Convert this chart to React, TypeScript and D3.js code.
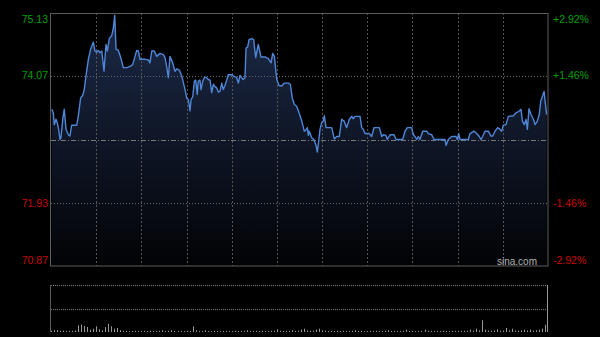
import React from "react";
import * as d3 from "d3";

// ---- data ----
const prevClose = 73.0;
const priceTicks = [75.13, 74.07, 73.0, 71.93, 70.87];
const leftLabels = ["75.13", "74.07", "", "71.93", "70.87"];
const rightLabels = ["+2.92%", "+1.46%", "", "-1.46%", "-2.92%"];
const gridMinutes = [30, 60, 90, 120, 150, 180, 210, 240, 270, 300];

// [minute since open, price]
const priceSeries: [number, number][] = [
  [0.5, 73.51], [1.5, 73.45], [2.2, 73.25], [3.3, 73.34], [4.2, 73.28], [5.1, 73.17], [6.0, 73.0], [6.6, 73.03],
  [7.8, 73.34], [8.8, 73.51], [10.0, 73.17], [11.5, 73.08], [12.6, 73.06], [13.7, 73.24], [17.1, 73.24], [18.1, 73.39],
  [19.7, 73.7], [21.0, 73.74], [22.1, 73.84], [23.2, 74.07], [24.8, 74.35], [26.4, 74.53], [28.1, 74.64], [29.2, 74.49],
  [30.3, 74.47], [31.4, 74.5], [32.5, 74.46], [33.7, 74.49], [35.2, 74.15], [36.5, 74.6], [37.4, 74.49], [38.7, 74.7],
  [40.3, 74.75], [41.4, 74.88], [42.3, 75.09], [43.2, 74.52], [44.7, 74.5], [46.3, 74.38], [48.0, 74.21], [50.3, 74.21],
  [52.5, 74.23], [54.2, 74.26], [55.8, 74.4], [56.9, 74.5], [58.0, 74.49], [59.1, 74.35], [62.4, 74.35], [64.6, 74.34],
  [65.7, 74.29], [66.9, 74.49], [68.6, 74.49], [70.2, 74.4], [72.4, 74.45], [74.6, 74.43], [75.7, 74.38], [76.8, 74.23],
  [77.9, 74.04], [79.0, 74.4], [80.8, 74.29], [82.3, 74.15], [83.5, 74.19], [85.2, 74.17],
  [86.8, 74.07], [89.0, 73.84], [90.1, 73.7], [91.2, 73.67], [92.3, 73.48], [93.0, 73.67], [94.1, 73.72], [95.2, 73.98],
  [96.1, 74.0], [97.1, 73.76], [97.8, 73.98], [98.9, 74.0], [99.6, 73.84], [100.7, 73.98], [101.8, 74.04], [102.9, 74.05],
  [104.4, 74.01], [105.6, 74.0], [106.7, 73.79], [107.8, 73.93], [108.9, 73.89], [110.0, 73.87], [111.1, 73.8], [112.2, 73.81],
  [113.4, 73.95], [114.4, 73.84], [115.5, 73.91], [116.7, 74.0], [117.7, 74.09], [120.0, 74.09], [121.0, 74.07], [123.3, 74.04],
  [124.4, 73.95], [125.5, 74.08], [126.6, 74.04], [127.7, 74.01], [128.8, 74.04], [129.5, 74.54], [130.6, 74.56], [131.5, 74.68],
  [133.3, 74.7], [134.6, 74.68], [135.9, 74.38], [137.6, 74.6], [139.4, 74.39], [142.1, 74.39], [144.3, 74.36], [146.1, 74.29],
  [147.2, 74.45], [148.3, 74.4], [149.9, 74.01], [151.4, 73.91], [153.2, 73.9], [154.9, 73.95], [157.6, 73.95], [158.9, 73.93],
  [160.2, 73.7], [161.6, 73.59], [163.1, 73.56], [164.7, 73.45], [166.5, 73.31], [168.2, 73.14],
  [169.3, 73.16], [170.2, 73.2], [170.9, 73.07], [171.5, 73.14], [173.1, 73.03], [174.6, 73.0], [176.0, 72.9], [176.8, 72.79],
  [177.5, 72.92], [178.6, 73.17], [179.7, 73.28], [180.8, 73.31], [181.5, 73.4], [182.6, 73.2], [186.4, 73.2], [188.1, 73.01],
  [189.7, 73.05], [191.4, 73.05], [193.0, 73.34], [194.6, 73.31], [196.3, 73.2], [198.1, 73.34], [199.7, 73.39], [200.7, 73.35],
  [201.9, 73.39], [205.2, 73.39], [206.3, 73.2], [207.4, 73.17], [208.5, 73.1], [211.4, 73.1], [212.9, 73.05], [214.5, 73.2],
  [218.0, 73.2], [219.6, 73.05], [220.7, 73.08], [222.4, 73.07], [223.3, 73.0], [225.1, 73.08], [227.8, 73.08], [229.1, 73.0],
  [233.5, 73.0], [235.1, 73.14], [236.6, 73.2], [239.5, 73.2], [240.6, 73.08], [241.7, 73.05], [242.8, 73.0], [243.9, 73.05],
  [245.0, 73.0], [246.8, 73.14], [249.5, 73.14], [250.5, 73.1], [252.8, 73.08], [254.3, 73.0], [261.6, 73.0], [262.3, 72.9],
  [263.8, 73.0], [266.1, 73.05], [268.9, 73.05], [269.8, 73.0], [270.7, 73.1], [271.6, 73.0], [277.1, 73.0], [278.2, 73.1],
  [280.9, 73.14], [282.7, 73.1], [284.4, 73.05], [285.5, 73.0], [286.6, 73.05], [288.2, 73.14], [290.4, 73.14], [292.0, 73.06],
  [293.3, 73.06], [294.8, 73.14], [296.6, 73.2], [298.1, 73.17], [299.3, 73.14], [300.3, 73.24], [302.1, 73.25], [303.7, 73.39],
  [307.0, 73.4], [308.8, 73.45], [311.0, 73.48], [312.1, 73.51], [313.0, 73.31], [314.3, 73.25], [315.4, 73.34], [316.3, 73.17],
  [317.4, 73.52], [318.7, 73.42], [320.3, 73.34], [321.4, 73.25], [322.9, 73.31], [324.2, 73.42], [325.2, 73.65], [326.5, 73.74],
  [327.4, 73.81], [328.2, 73.62], [329.1, 73.42],
];

// volume every 2 minutes
const volumes = [
  120, 170, 200, 110, 130, 100, 120, 110, 140, 670,
  730, 600, 500, 230, 330, 570, 270, 170, 500, 800,
  570, 330, 400, 170, 100, 110, 90, 100, 120, 100,
  90, 110, 100, 120, 100, 90, 110, 170, 100, 120,
  170, 100, 90, 110, 100, 120, 100, 570, 170, 110,
  100, 170, 100, 90, 110, 100, 90, 100, 110, 90,
  100, 120, 100, 90, 110, 170, 100, 90, 110, 100,
  120, 100, 90, 110, 100, 270, 120, 100, 110, 100,
  170, 110, 120, 230, 330, 150, 120, 130, 230, 330,
  170, 120, 100, 110, 100, 120, 100, 110, 90, 100,
  120, 170, 100, 110, 90, 100, 120, 100, 110, 90,
  100, 120, 170, 100, 110, 90, 100, 120, 230, 100,
  110, 90, 100, 120, 230, 110, 100, 90, 110, 100,
  120, 100, 90, 110, 100, 120, 110, 130, 120, 230,
  130, 330, 150, 1170, 230, 130, 120, 150, 270, 130,
  150, 400, 160, 330, 140, 130, 150, 230, 140, 230,
  130, 170, 230, 330, 730, 4700,
];
const volumeMax = 4700;

// ---- layout ----
const W = 600;
const H = 337;
const L = 51;
const R = 548;
const T = 13;
const B = 266;
const VT = 285;
const VB = 332;

export default function App() {
  const x = d3.scaleLinear().domain([0, 330]).range([L, R]);
  const y = d3.scaleLinear().domain([70.87, 75.13]).range([B, T]);
  const vy = d3.scaleLinear().domain([0, volumeMax]).range([VB, VT]);

  const line = d3
    .line<[number, number]>()
    .x((d) => x(d[0]))
    .y((d) => y(d[1]));
  const area = d3
    .area<[number, number]>()
    .x((d) => x(d[0]))
    .y0(B)
    .y1((d) => y(d[1]));

  const font = "'Liberation Sans', Arial, sans-serif";
  const labelColor = (i: number) => (i < 2 ? "#00a000" : "#cc0000");
  const labelY = (i: number) => {
    const v = y(priceTicks[i]);
    if (i === 0) return v + 9.5;
    if (i === priceTicks.length - 1) return v - 2.5;
    return v + 3.5;
  };

  return (
    <div style={{ position: "fixed", left: 0, top: 0, width: W, height: H, background: "#000" }}>
      <svg width={W} height={H} style={{ display: "block" }}>
        <defs>
          <linearGradient id="fillGrad" gradientUnits="userSpaceOnUse" x1="0" y1={T} x2="0" y2={B}>
            <stop offset="0%" stopColor="#1c2a48" />
            <stop offset="50%" stopColor="#0f1627" />
            <stop offset="100%" stopColor="#020305" />
          </linearGradient>
        </defs>
        <rect x={0} y={0} width={W} height={H} fill="#000" />

        <path d={area(priceSeries) || ""} fill="url(#fillGrad)" />

        {gridMinutes.map((m) => (
          <line
            key={m}
            x1={Math.round(x(m)) + 0.5}
            x2={Math.round(x(m)) + 0.5}
            y1={T}
            y2={B}
            stroke="#555"
            strokeDasharray="2,2"
          />
        ))}
        {priceTicks.map((p, i) =>
          i === 0 || i === priceTicks.length - 1 ? null : (
            <line
              key={p}
              x1={L}
              x2={R}
              y1={Math.round(y(p)) + 0.5}
              y2={Math.round(y(p)) + 0.5}
              stroke={p === prevClose ? "#777" : "#666"}
              strokeDasharray={p === prevClose ? "5,2,1,2" : "1,2"}
            />
          )
        )}

        <path d={line(priceSeries) || ""} fill="none" stroke="#4f86d8" strokeWidth={1.4} strokeLinejoin="round" />

        <rect x={L - 0.5} y={T + 0.5} width={R - L + 0.5} height={B - T - 0.5} fill="none" stroke="#5c5c5c" />

        {priceTicks.map((p, i) =>
          leftLabels[i] ? (
            <text key={"l" + i} x={48} y={labelY(i)} textAnchor="end" fontFamily={font} fontSize={10.5} fill={labelColor(i)}>
              {leftLabels[i]}
            </text>
          ) : null
        )}
        {priceTicks.map((p, i) =>
          rightLabels[i] ? (
            <text key={"r" + i} x={553} y={labelY(i)} textAnchor="start" fontFamily={font} fontSize={10.5} fill={labelColor(i)}>
              {rightLabels[i]}
            </text>
          ) : null
        )}
        <text x={537} y={264.5} textAnchor="end" fontFamily={font} fontSize={10} fill="#b0b0b0">
          sina.com
        </text>

        {/* volume panel */}
        <line x1={L} x2={R} y1={VT + 0.5} y2={VT + 0.5} stroke="#777" strokeDasharray="1,1" />
        <line x1={L} x2={R} y1={309.5} y2={309.5} stroke="#777" strokeDasharray="1,1" />
        <line x1={L - 0.5} x2={L - 0.5} y1={VT} y2={VB} stroke="#5c5c5c" />
        {volumes.map((v, i) => (
          <rect
            key={i}
            x={Math.min(Math.round(x(i * 2)), R - 1)}
            y={vy(v)}
            width={1}
            height={VB - vy(v)}
            fill="#9a9a9a"
          />
        ))}
      </svg>
    </div>
  );
}
